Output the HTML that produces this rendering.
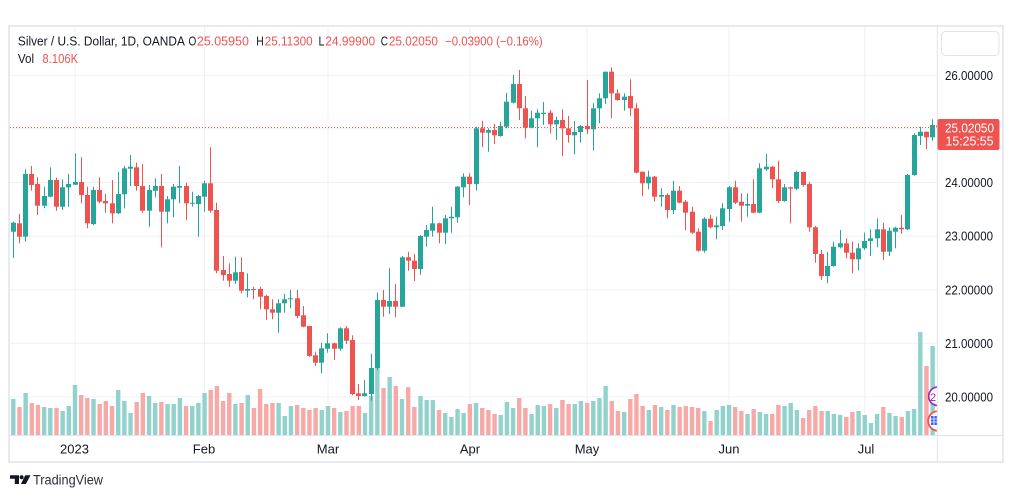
<!DOCTYPE html>
<html><head><meta charset="utf-8"><style>
html,body{margin:0;padding:0;background:#fff;}
body{width:1012px;height:498px;overflow:hidden;}
svg{display:block;font-family:"Liberation Sans",Arial,sans-serif;}
</style></head><body>
<svg id="s" width="1012" height="498" viewBox="0 0 1012 498" xmlns="http://www.w3.org/2000/svg">
<defs><clipPath id="pc"><rect x="10" y="27" width="927" height="408"/></clipPath></defs>
<rect x="0" y="0" width="1012" height="498" fill="#fff"/>
<g stroke="#eef0f4" stroke-width="1">
<line x1="10" y1="75.3" x2="937" y2="75.3"/><line x1="10" y1="128.9" x2="937" y2="128.9"/><line x1="10" y1="182.5" x2="937" y2="182.5"/><line x1="10" y1="236.1" x2="937" y2="236.1"/><line x1="10" y1="289.7" x2="937" y2="289.7"/><line x1="10" y1="343.3" x2="937" y2="343.3"/><line x1="10" y1="396.9" x2="937" y2="396.9"/>
<line x1="75" y1="27" x2="75" y2="435"/><line x1="204.6" y1="27" x2="204.6" y2="435"/><line x1="328" y1="27" x2="328" y2="435"/><line x1="469.9" y1="27" x2="469.9" y2="435"/><line x1="587.1" y1="27" x2="587.1" y2="435"/><line x1="729" y1="27" x2="729" y2="435"/><line x1="864.8" y1="27" x2="864.8" y2="435"/>
</g>
<g id="pane" clip-path="url(#pc)"></g>
<line x1="10" y1="127.5" x2="937" y2="127.5" stroke="#ef5350" stroke-width="1" stroke-dasharray="1,2"/>
<g clip-path="url(#pc)">
<circle cx="938" cy="396.3" r="9.3" fill="#fff" stroke="#9c27b0" stroke-width="1.6"/>
<text x="930" y="401" font-size="11" fill="#9c27b0">2</text>
<circle cx="938" cy="421" r="9.8" fill="#fff" stroke="#ef5350" stroke-width="1.8"/>
<rect x="931" y="416" width="8" height="9" fill="#2962ff"/>
<path d="M931 419h8M931 422h8M934 416v9" stroke="#fff" stroke-width="0.8"/>
</g>
<rect x="9" y="26" width="994" height="436" fill="none" stroke="#e0e3eb" stroke-width="1.5"/>
<line x1="937.3" y1="26" x2="937.3" y2="462" stroke="#e0e3eb" stroke-width="1"/>
<line x1="9" y1="435.5" x2="1003" y2="435.5" stroke="#e0e3eb" stroke-width="1"/>
<rect x="941.5" y="31.5" width="57.5" height="24" rx="4" fill="#fff" stroke="#e0e3eb" stroke-width="1"/>
<g font-size="13" fill="#131722">
<text x="945" y="80" textLength="48" lengthAdjust="spacingAndGlyphs">26.00000</text>
<text x="945" y="187" textLength="48" lengthAdjust="spacingAndGlyphs">24.00000</text>
<text x="945" y="240.7" textLength="48" lengthAdjust="spacingAndGlyphs">23.00000</text>
<text x="945" y="294.3" textLength="48" lengthAdjust="spacingAndGlyphs">22.00000</text>
<text x="945" y="348" textLength="48" lengthAdjust="spacingAndGlyphs">21.00000</text>
<text x="945" y="401.7" textLength="48" lengthAdjust="spacingAndGlyphs">20.00000</text>
</g>
<rect x="937.5" y="119" width="62" height="31" rx="2" fill="#ef5350"/>
<text x="945" y="132.3" font-size="13" fill="#fff" textLength="49" lengthAdjust="spacingAndGlyphs">25.02050</text>
<text x="945.5" y="145.5" font-size="13" fill="#fff" textLength="48" lengthAdjust="spacingAndGlyphs">15:25:55</text>
<g font-size="13" fill="#131722" text-anchor="middle">
<text x="74.5" y="453.5">2023</text>
<text x="204" y="453.5">Feb</text>
<text x="328" y="453.5">Mar</text>
<text x="470" y="453.5">Apr</text>
<text x="587" y="453.5">May</text>
<text x="729" y="453.5">Jun</text>
<text x="866" y="453.5">Jul</text>
</g>
<g font-size="12.5">
<text x="17.9" y="45.7" fill="#131722" textLength="167" lengthAdjust="spacingAndGlyphs">Silver / U.S. Dollar, 1D, OANDA</text>
<text x="188.5" y="45.7" fill="#131722" textLength="7.8" lengthAdjust="spacingAndGlyphs">O</text>
<text x="196.9" y="45.7" fill="#ef5350" textLength="52" lengthAdjust="spacingAndGlyphs">25.05950</text>
<text x="256.3" y="45.7" fill="#131722" textLength="7.5" lengthAdjust="spacingAndGlyphs">H</text>
<text x="264.7" y="45.7" fill="#ef5350" textLength="48" lengthAdjust="spacingAndGlyphs">25.11300</text>
<text x="318.5" y="45.7" fill="#131722" textLength="6" lengthAdjust="spacingAndGlyphs">L</text>
<text x="325.2" y="45.7" fill="#ef5350" textLength="50" lengthAdjust="spacingAndGlyphs">24.99900</text>
<text x="380.8" y="45.7" fill="#131722" textLength="7.2" lengthAdjust="spacingAndGlyphs">C</text>
<text x="388.9" y="45.7" fill="#ef5350" textLength="49" lengthAdjust="spacingAndGlyphs">25.02050</text>
<text x="445.1" y="45.7" fill="#ef5350" textLength="97.6" lengthAdjust="spacingAndGlyphs">−0.03900 (−0.16%)</text>
<text x="17.9" y="63" fill="#131722" textLength="16.2" lengthAdjust="spacingAndGlyphs">Vol</text>
<text x="42.4" y="63" fill="#ef5350" textLength="35.8" lengthAdjust="spacingAndGlyphs">8.106K</text>
</g>
<path d="M10 475.3h9v8.7h-4.2v-5.2h-4.8z" fill="#131722"/>
<circle cx="21.6" cy="477.3" r="2" fill="#131722"/>
<path d="M25.3 475.3h5.2l-4.6 8.7h-5z" fill="#131722"/>
<text x="33" y="484.5" font-size="13.5" fill="#2a2e39" textLength="70" lengthAdjust="spacingAndGlyphs">TradingView</text>
</svg>
<script>
var C=[[1,222.7,231.7,221.7,258],[0,223.3,236.7,214,243.3],[1,174,236.7,169.3,241.7],[0,174,185,166,190.7],[0,184,205.7,177.3,215],[1,196,205.7,186.7,208.3],[1,180,196.7,167.3,197.3],[0,180,206.7,177.7,210.7],[1,187.3,206.7,179.3,210],[1,184,187.3,174,206.7],
[1,182,184.7,153.3,185],[0,182,195,157.3,203.3],[0,195,223.3,186.7,228.3],[1,190,224,186.7,225],[0,190,201.7,177.3,203.3],[0,201,203.3,194,212.7],[0,203.3,213.3,180,223.3],[1,194,213.3,172,214],[1,168.3,194.3,166,208.3],[1,166.7,168.7,155,186],
[0,167.3,186,162.7,190.7],[0,186,210.7,164,212.7],[1,190,210.7,185,226.7],[1,186,190.7,178.3,197.3],[0,186,211.7,174,247.3],[1,199.3,211.7,196,223.3],[1,186.7,199.3,184,217.3],[1,186,187.7,166,203.3],[0,186,203.3,182.7,220],[1,202.7,203.7,191.7,206.7],
[1,196,204,195,236.7],[1,183.3,196.7,180.7,211.7],[0,183.3,210.7,147.3,212.7],[0,210,270.7,202.7,273.3],[0,270,275,256,280.7],[0,274,280.7,263.3,286.7],[1,272.3,280.7,256.7,284],[0,272,290.7,257.3,293.3],[1,289,290.7,273.3,297.3],[0,289,290,286.7,299.3],
[0,289,296.7,286.7,309.3],[0,296,309.3,295,320],[0,309.3,312.7,299.3,319.3],[1,303.3,312.7,299.3,332.7],[1,299.3,303.3,294,312.7],[1,298.3,299.3,290,308.3],[0,298.3,316,290,318.3],[0,315.3,326.7,306,327.3],[0,326,356,326,356.7],[0,355.3,362.7,351.7,366],
[1,348.3,362.7,342.7,373.3],[1,343.3,348.7,333.3,352.7],[0,343.3,348.7,342.7,360],[1,328.3,348.7,327.3,350.7],[0,328.3,340.7,326,344],[0,340,394,335.3,395.3],[0,393.3,396,384,400],[1,393.3,396,380,396.7],[1,368,394,354,400.7],[1,300,368,292.7,370],
[0,300,306.7,290,316.7],[1,301,306.7,268.3,314],[0,301,306.7,284,317.3],[1,257.3,306.7,256,307],[0,257.3,260.7,251.7,270.7],[0,260.7,269,254,281],[1,236,269,235,275],[1,230,236.7,225,246.7],[1,223.3,230.7,206.7,236.7],[0,223.3,232.7,222.7,243.3],
[1,218.3,232.7,215,244],[1,216.7,218.3,206.7,232.7],[1,186.7,217.3,186,222.7],[1,176.7,187.3,173.3,197.3],[0,176.7,184,173.3,205],[1,128.3,184,126.7,190.7],[0,128.3,132.7,120.7,147.3],[1,130,132.7,128.3,151.7],[0,130,135.3,124,144],[1,126,136,121.7,136.7],
[1,101.7,126.7,92.7,128.3],[1,84,102.7,75,103.3],[0,84,108.3,70,120],[0,108.3,127.7,96,138.3],[1,118.3,127.7,110.7,128.3],[1,112.7,118.3,109.3,147.3],[1,112.7,114,102,125],[0,112.7,124.3,110,133.3],[1,120,124.3,116.7,140],[0,120,128.3,109.3,156],
[0,128.3,135,116,142.7],[1,132,135.3,121,154.3],[1,126,132,125,142.7],[0,126,129.3,80,134],[1,108.3,129.3,103.3,150.7],[1,98.3,108.3,93.3,123.3],[1,71.7,98.3,71.7,104],[0,71.7,93.3,67.3,118.3],[0,93.3,100,89.3,100.7],[1,96.7,100,93.3,110.7],
[0,96,108.3,79.3,116],[0,108.3,172.7,103.3,173.3],[0,171.7,183.3,171.7,196],[1,176.7,183.3,170.7,189.3],[0,176.7,196.7,176,201.7],[1,195,196.7,188.3,206.7],[0,195,210,193.3,218.3],[1,190.7,210,180.7,214],[0,190.7,202.7,186,203.3],[0,201.7,212.7,200,230],
[0,211.7,232.7,206.7,234],[0,231.7,250.7,228.3,251.7],[1,218.7,250.7,217.3,252.7],[0,218.7,227.3,215,228.3],[1,225.3,227.3,216.7,239.3],[1,208.3,226,203.3,230],[1,187.3,209,186,221.7],[0,187.3,202.7,180.7,204],[0,201.7,205.7,193.3,221.7],[1,204,205.7,193.3,216.7],
[0,204,212.7,179.3,213.3],[1,168.3,212.7,163.3,213.3],[1,166.7,169.3,154,170.7],[0,166.7,179.3,166,188.3],[0,179.3,201,160.7,203.3],[1,187.3,201,184,201.7],[0,187.3,188.7,186.7,223.3],[1,172,188.7,170.7,190],[0,172,185,171.7,186.7],[0,184,227.3,181.7,231.7],
[0,227.3,254,226,262.7],[0,254,276,250,280],[1,266,276,252,283.3],[1,246.7,266,241.7,266.7],[1,243.3,247.3,230,248.3],[0,243.3,252.7,238.3,258.3],[0,252.7,259.3,241.7,273.3],[1,248.3,259.3,243.3,270],[1,241,248.3,232.7,250],[1,238.3,241,229.3,256],
[1,229.3,238.3,218.3,247.3],[0,229.3,251.7,222.7,260],[1,230.7,251.7,227.3,256],[1,227.7,231.7,226.7,248.3],[0,227.7,229.3,215,234],[1,175,229.3,174,230],[1,135,175,133.3,175.7],[1,131.7,136,126.7,145],[0,131.7,137.3,131.7,149.3],[1,125,137.3,119.3,140.7],
[0,125.4,127.5,122.5,128.7]];
var V=[399,407,393,403,405,407,408,408,411,406,385,395,398,399,404,401,406,390,401,413,402,393,396,403,402,404,404,398,406,406,403,393,390,386,401,393,404,403,395,408,389,404,403,403,416,406,405,408,410,408,410,406,408,412,411,406,406,413,396,368,388,377,386,399,387,407,396,400,400,410,413,417,409,413,404,
403,408,410,414,415,402,408,398,408,414,405,406,404,408,400,404,404,401,403,401,398,386,401,411,412,399,394,406,410,405,407,410,405,407,406,407,408,411,421,410,406,405,407,411,414,409,412,414,414,405,406,403,410,418,410,406,411,411,414,415,417,412,411,415,423,414,407,413,416,417,411,409,332,366,346];
var ovr={77:0,126:1};
var ns="http://www.w3.org/2000/svg",g=document.getElementById("pane");
function R(x,y,w,h,f){var r=document.createElementNS(ns,"rect");r.setAttribute("x",x);r.setAttribute("y",y);r.setAttribute("width",w);r.setAttribute("height",h);r.setAttribute("fill",f);g.appendChild(r);}
for(var i=0;i<V.length;i++){var cx=13.3+6.17*i;var col=(i in ovr)?ovr[i]:C[i][0];var t=V[i];R((cx-2.2).toFixed(2),t,4.4,435-t,col?"#92d2cc":"#f7a9a7");}
for(var i=0;i<C.length;i++){var c=C[i],cx=13.3+6.17*i,bx=Math.round(cx-2.5),f=c[0]?"#26a69a":"#ef5350";
R(bx+2,c[3],1,Math.max(1,c[4]-c[3]),f);R(bx,c[1],5,Math.max(1,c[2]-c[1]),f);}
</script>
</body></html>
